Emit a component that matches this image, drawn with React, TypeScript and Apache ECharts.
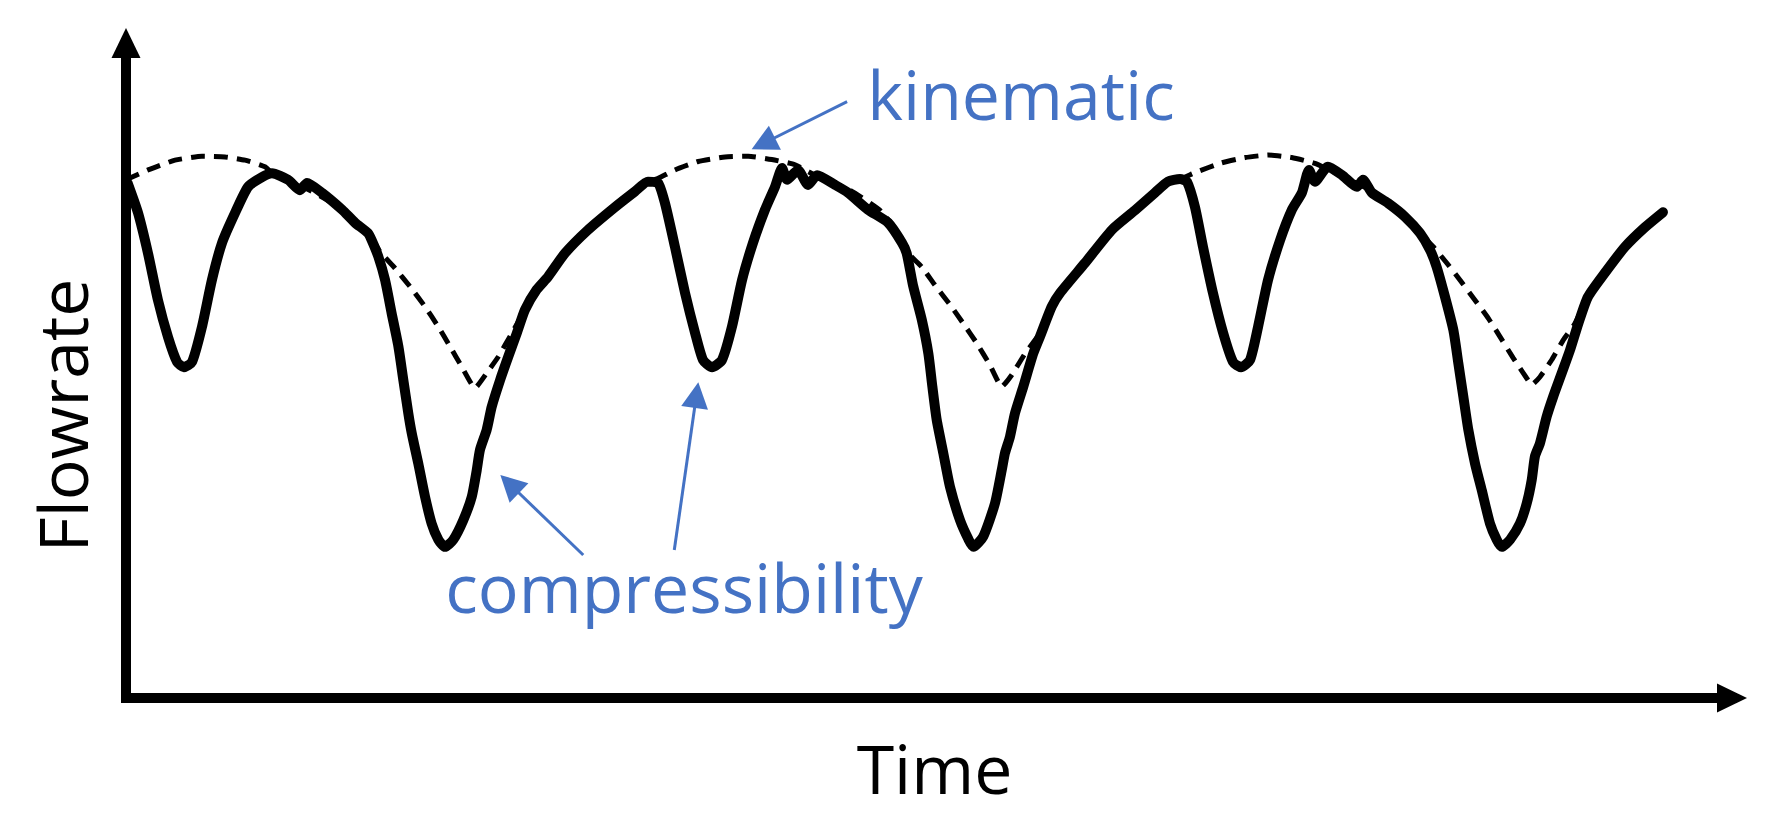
import React, { useEffect, useRef } from 'react';
import * as echarts from 'echarts';

// Measured flowrate (solid curve), time and flow in arbitrary units (0-100)
const measuredTime = [
  0.1, 0.75, 1.37, 1.99, 2.62, 3.18, 3.6, 4.11, 4.73, 5.35, 5.98, 6.79, 7.6, 8.47, 9.09,
  10.09, 10.83, 11.27, 12.2, 13.45, 14.26, 15.07, 15.3, 15.71, 16.13, 16.54, 16.96, 17.27,
  17.58, 17.79, 18.2, 18.62, 19.03, 19.45, 19.86, 20.38, 21.0, 21.53, 21.84, 22.04, 22.46,
  22.77, 23.29, 23.8, 24.33, 24.84, 25.57, 26.28, 27.33, 28.77,
  30.45, 31.69, 32.5, 33.13, 33.56, 34.18, 34.81, 35.43, 35.93, 36.49, 37.11, 37.73, 38.36,
  39.04, 39.79, 40.41, 40.85, 41.16, 41.84, 42.47, 43.03, 44.15, 44.96, 46.2, 47.45, 48.32,
  48.61, 49.02, 49.55, 49.96, 50.21, 50.48, 50.89, 51.31, 51.93, 52.45, 52.76, 53.38, 54.11,
  54.53, 54.73, 55.04, 55.35, 55.87, 56.49, 56.91, 57.64, 58.16,
  59.71, 61.39, 62.83, 64.07, 64.88, 65.63, 66.06, 66.56, 67.06, 67.68, 68.31,
  68.93, 69.43, 69.99, 70.49, 71.11, 71.86, 72.6, 73.22, 73.66, 74.03, 74.84, 75.72, 76.65,
  77.02, 77.58, 78.58, 79.64, 80.57, 81.2, 81.61, 82.13, 82.65, 82.96, 83.27, 83.58, 84.0,
  84.42, 84.93, 85.35, 85.66, 86.18, 86.8, 87.22, 87.53, 87.73, 88.04, 88.46, 88.87, 89.4,
  89.91, 90.43, 91.03, 92.09, 93.34, 94.58, 95.7,
];
const measuredFlow = [
  78.5, 73.9, 67.7, 60.5, 54.8, 51.0, 50.2, 51.0, 56.4, 63.6, 69.3, 73.9, 77.9, 79.4, 80.0,
  79.0, 77.4, 78.5, 77.0, 74.4, 72.4, 70.8, 69.7, 67.2, 63.6, 58.5, 53.4, 48.2,
  43.1, 40.1, 35.4, 30.3, 26.2, 23.7, 22.6, 23.7, 26.7, 30.3, 34.4, 37.5, 40.6,
  44.1, 48.2, 51.8, 55.4, 59.0, 62.1, 64.1, 67.7, 71.3,
  74.8, 77.2, 78.7, 78.5, 75.4, 68.7, 61.6, 55.5, 51.3, 50.2, 51.3, 56.4, 63.6,
  69.3, 74.4, 77.9, 80.8, 79.0, 80.5, 78.2, 79.7, 78.2, 77.0, 74.4, 72.4, 69.3,
  67.7, 62.6, 57.5, 52.3, 47.2, 42.1, 37.0, 31.8, 26.7, 23.8, 22.6, 24.2, 29.3,
  34.4, 37.0, 39.5, 43.1, 47.2, 52.3, 54.9, 59.5, 61.6,
  66.2, 71.3, 74.3, 77.0, 78.7, 79.1, 78.7, 74.8, 68.7, 61.6, 55.5,
  51.0, 50.2, 51.3, 56.4, 63.6, 69.7, 74.4, 77.0, 80.5, 78.7, 81.0, 79.7, 77.9,
  79.0, 77.0, 75.4, 73.3, 70.8, 68.2, 65.6, 61.0, 55.9, 50.8, 45.7, 40.6, 35.4,
  31.3, 26.2, 23.7, 22.6, 23.7, 26.2, 29.3, 32.9, 36.5, 38.5, 42.6, 45.7, 49.3,
  52.8, 56.9, 61.0, 64.7, 68.7, 71.7, 74.0,
];

// Kinematic flowrate (dashed curve)
const kinematicTime = [
  0, 1.37, 3.05, 4.73, 6.16, 7.41, 8.66, 9.09, 10.83, 13.32, 15.19,
  15.82, 16.75, 17.68, 18.62, 19.45, 20.17, 20.9, 21.73, 22.46, 23.18, 24.02,
  25.57, 27.33, 28.77, 30.45, 31.69, 32.5,
  33.14, 34.18, 35.63, 37.3, 38.75, 40.21, 41.66, 43.21, 45.08, 46.95, 48.19,
  48.71, 49.55, 50.37, 51.31, 52.14, 52.97, 53.8, 54.53, 55.15, 55.98, 56.81,
  58.16, 59.71, 61.39, 62.83, 64.07, 64.88, 65.63,
  66.67, 68.23, 69.68, 71.13, 72.58, 74.03, 75.59, 77.46, 79.33, 80.57,
  81.4, 82.24, 83.06, 84.0, 84.83, 85.55, 86.38, 87.22, 87.53, 88.04, 88.77, 89.5, 90.22,
  91.03, 92.09, 93.34, 94.58, 95.7,
];
const kinematicFlow = [
  79.0, 80.5, 82.0, 82.6, 82.5, 82.0, 81.0, 80.0, 78.2, 74.7, 70.5,
  67.9, 65.4, 62.6, 59.5, 56.4, 53.4, 50.3, 47.0, 49.3, 51.8, 55.4,
  62.1, 67.7, 71.3, 74.8, 77.2, 78.7,
  79.2, 80.5, 81.8, 82.5, 82.6, 82.1, 81.3, 79.3, 77.4, 74.3, 70.5,
  67.7, 65.6, 62.8, 59.8, 56.9, 53.9, 50.5, 47.2, 49.0, 52.3, 55.1,
  61.6, 66.2, 71.3, 74.3, 77.0, 78.7, 79.1,
  80.2, 81.6, 82.4, 82.8, 82.4, 81.5, 79.7, 77.4, 74.3, 70.8,
  68.7, 66.2, 63.6, 60.5, 57.7, 54.9, 51.6, 48.5, 47.5, 48.7, 51.3, 54.4, 56.9,
  61.0, 64.7, 68.7, 71.7, 74.0,
];

// Annotation arrows: [startTime, startFlow, headTime, headFlow]
const arrowKinematic = [44.9, 91.0, 39.68, 84.56];
const arrowCompress1 = [28.47, 21.35, 23.89, 32.26];
const arrowCompress2 = [34.14, 22.12, 35.52, 45.93];

const xTitle = 'Time';
const yTitle = 'Flowrate';
const labelKinematic = 'kinematic';
const labelCompress = 'compressibility';

const BLUE = '#4472C4';
const FONT = '"Open Sans", "Noto Sans", sans-serif';

function zip(a: number[], b: number[]) {
  return a.map((v, i) => [v, b[i]]);
}

function arrow(a: number[]) {
  return [{ coord: [a[0], a[1]] }, { coord: [a[2], a[3]] }];
}

export default function App() {
  const ref = useRef<HTMLDivElement>(null);
  useEffect(() => {
    document.body.style.margin = '0';
    const chart = echarts.init(ref.current!, null, { renderer: 'svg' });
    const axisBase = {
      type: 'value',
      min: 0,
      max: 100,
      axisLine: {
        show: true,
        onZero: false,
        symbol: ['none', 'triangle'],
        symbolSize: [29, 30],
        lineStyle: { color: '#000', width: 10, cap: 'square' },
      },
      axisTick: { show: false },
      axisLabel: { show: false },
      splitLine: { show: false },
    };
    chart.setOption({
      animation: false,
      backgroundColor: '#ffffff',
      grid: { left: 126, right: 41, top: 43, bottom: 133 },
      xAxis: { ...axisBase, offset: 4 },
      yAxis: { ...axisBase },
      series: [
        {
          name: 'kinematic',
          type: 'line',
          data: zip(kinematicTime, kinematicFlow),
          showSymbol: false,
          smooth: 0.15,
          z: 2,
          lineStyle: { color: '#000', width: 5, type: [14, 9] },
        },
        {
          name: 'measured',
          type: 'line',
          data: zip(measuredTime, measuredFlow),
          showSymbol: false,
          smooth: 0.2,
          z: 3,
          lineStyle: { color: '#000', width: 10, join: 'round', cap: 'round' },
          markLine: {
            silent: true,
            symbol: ['none', 'triangle'],
            symbolSize: [27, 26],
            label: { show: false },
            lineStyle: { color: BLUE, width: 3, type: 'solid' },
            emphasis: { disabled: true },
            data: [arrow(arrowKinematic), arrow(arrowCompress1), arrow(arrowCompress2)],
          },
        },
      ],
      graphic: [
        {
          type: 'text',
          x: 1021,
          y: 93.6,
          style: {
            text: labelKinematic, fill: BLUE, fontSize: 68, fontFamily: FONT,
            textAlign: 'center', textVerticalAlign: 'middle', verticalAlign: 'middle',
          },
        },
        {
          type: 'text',
          x: 684,
          y: 586.2,
          style: {
            text: labelCompress, fill: BLUE, fontSize: 68, fontFamily: FONT,
            textAlign: 'center', textVerticalAlign: 'middle', verticalAlign: 'middle',
          },
        },
        {
          type: 'text',
          x: 934.5,
          y: 767.7,
          style: {
            text: xTitle, fill: '#000', fontSize: 68, fontFamily: FONT,
            textAlign: 'center', textVerticalAlign: 'middle', verticalAlign: 'middle',
          },
        },
        {
          type: 'text',
          x: 61.6,
          y: 415.5,
          rotation: Math.PI / 2,
          style: {
            text: yTitle, fill: '#000', fontSize: 68, fontFamily: FONT,
            textAlign: 'center', textVerticalAlign: 'middle', verticalAlign: 'middle',
          },
        },
      ],
    });
    return () => chart.dispose();
  }, []);
  return (
    <div
      ref={ref}
      style={{ position: 'absolute', left: 0, top: 0, width: 1773, height: 827 }}
    />
  );
}
